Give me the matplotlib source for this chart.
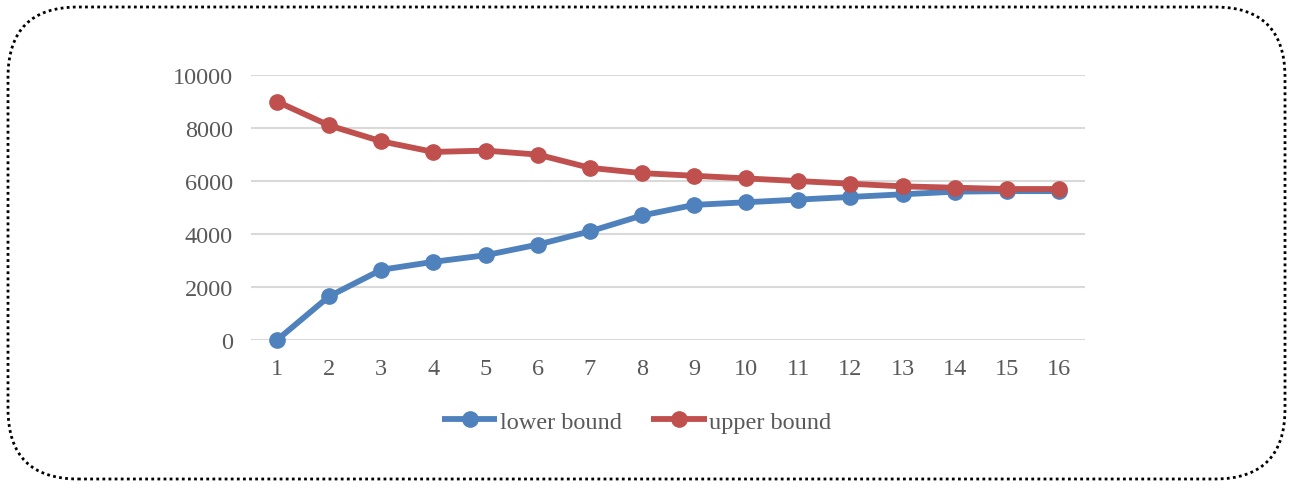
import matplotlib.pyplot as plt
from matplotlib.patches import FancyBboxPatch
from matplotlib.transforms import IdentityTransform

# Bound values per iteration
iterations = list(range(1, 17))
lower_bound = [0, 1650, 2650, 2950, 3200, 3600, 4100, 4700, 5100, 5200, 5300, 5400, 5500, 5600, 5620, 5620]
upper_bound = [9000, 8100, 7500, 7100, 7150, 7000, 6500, 6300, 6200, 6100, 6000, 5900, 5800, 5750, 5700, 5700]
y_ticks = [0, 2000, 4000, 6000, 8000, 10000]

plt.rcParams['font.family'] = ['Liberation Serif', 'DejaVu Serif']

fig = plt.figure(figsize=(12.9, 4.85), dpi=100)
ax = fig.add_axes([0.1946, 0.297, 0.6465, 0.546])

ax.plot(iterations, lower_bound, color='#4f81bd', lw=4.2, marker='o', ms=11,
        label='lower bound', clip_on=False, zorder=3, solid_capstyle='butt')
ax.plot(iterations, upper_bound, color='#c0504d', lw=4.2, marker='o', ms=11,
        label='upper bound', clip_on=False, zorder=3, solid_capstyle='butt')

ax.set_xlim(0.5, 16.5)
ax.set_ylim(0, 10000)
ax.set_xticks(iterations)
ax.set_yticks(y_ticks)
ax.tick_params(length=0, labelsize=17.5, colors='#595959')
ax.tick_params(axis='x', pad=13)
ax.tick_params(axis='y', pad=13)
ax.grid(axis='y', color='#d9d9d9', lw=1.5)
ax.set_axisbelow(True)
for s in ax.spines.values():
    s.set_visible(False)

fig.legend(loc='center', bbox_to_anchor=(0.4934, 0.128), ncol=2, frameon=False,
           fontsize=17.5, handlelength=2.3, handletextpad=0.1, columnspacing=1.2,
           labelcolor='#595959')

# dotted rounded outline around the whole chart (pixel coordinates)
border = FancyBboxPatch((8, 5), 1277, 472,
                        boxstyle='round,pad=0,rounding_size=70',
                        transform=IdentityTransform(), fill=False, ec='black',
                        lw=2, ls=(0, (1, 1.2)))
fig.patches.append(border)

fig.savefig('out.png', dpi=100)
